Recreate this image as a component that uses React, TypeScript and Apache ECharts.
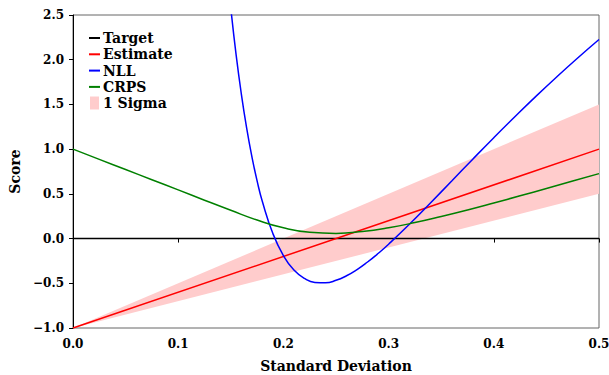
import React, { useEffect, useRef } from "react";
import * as echarts from "echarts";

const xTicks = ["0.0", "0.1", "0.2", "0.3", "0.4", "0.5"];
const yTicks = ["−1.0", "−0.5", "0.0", "0.5", "1.0", "1.5", "2.0", "2.5"];

const targetX = [0, 0.5];
const targetY = [0, 0];

const estimateX = [0, 0.5];
const estimateY = [-1, 1];

const bandX = [0, 0.5];
const bandLower = [-1, 0.5];
const bandUpper = [-1, 1.5];

const nllX = [0.14, 0.145, 0.15, 0.155, 0.16, 0.165, 0.17, 0.175, 0.18, 0.19, 0.2, 0.21, 0.22, 0.23, 0.24, 0.25, 0.26, 0.27, 0.28, 0.29, 0.3, 0.32, 0.34, 0.36, 0.38, 0.4, 0.42, 0.44, 0.46, 0.48, 0.5];
const nllY = [3.892, 3.183, 2.577, 2.06, 1.618, 1.24, 0.919, 0.645, 0.414, 0.056, -0.19, -0.352, -0.446, -0.49, -0.494, -0.467, -0.416, -0.347, -0.262, -0.167, -0.063, 0.162, 0.401, 0.644, 0.888, 1.128, 1.362, 1.59, 1.81, 2.022, 2.226];

const crpsX = [0, 0.025, 0.05, 0.075, 0.1, 0.125, 0.15, 0.175, 0.2, 0.225, 0.25, 0.275, 0.3, 0.325, 0.35, 0.375, 0.4, 0.425, 0.45, 0.475, 0.5];
const crpsY = [1, 0.886, 0.772, 0.658, 0.544, 0.429, 0.316, 0.207, 0.12, 0.07, 0.058, 0.079, 0.121, 0.179, 0.247, 0.32, 0.398, 0.478, 0.56, 0.643, 0.726];

const FONT = "'DejaVu Serif', 'Liberation Serif', serif";

const zip = (xs: number[], ys: number[]) => xs.map((x, i) => [x, ys[i]]);

export default function App() {
  const ref = useRef<HTMLDivElement>(null);
  useEffect(() => {
    if (!ref.current) return;
    const chart = echarts.init(ref.current, null, { renderer: "svg" });
    const lbl = { fontFamily: FONT, fontWeight: "bold" as const, fontSize: 12, color: "#000" };
    const legendText = { ...lbl, fontSize: 14, lineHeight: 16, padding: [0, 0, 0, -2] };
    chart.setOption({
      animation: false,
      grid: {
        left: 73,
        right: 10,
        top: 15,
        bottom: 47,
        show: true,
        borderColor: "#666",
        borderWidth: 1,
        containLabel: false,
        outerBoundsMode: "none",
      },
      legend: [
        {
          orient: "vertical",
          left: 84,
          top: 25,
          itemGap: 0.3,
          itemWidth: 11,
          itemHeight: 2,
          icon: "rect",
          textStyle: legendText,
          data: ["Target", "Estimate", "NLL", "CRPS"],
        },
        {
          orient: "vertical",
          left: 85,
          top: 90,
          itemWidth: 9,
          itemHeight: 13,
          textStyle: { ...legendText, padding: [0, 0, 0, -1] },
          data: [{ name: "1 Sigma", icon: "rect", itemStyle: { color: "#ffcccc" } }],
        },
      ],
      xAxis: {
        type: "value",
        min: 0,
        max: 0.5,
        interval: 0.1,
        name: "Standard Deviation",
        nameLocation: "middle",
        nameGap: 31,
        nameTextStyle: { ...lbl, fontSize: 14 },
        axisLine: { lineStyle: { color: "#000", width: 1 } },
        axisTick: { length: 4, lineStyle: { color: "#000" } },
        axisLabel: { ...lbl, margin: 10, formatter: (v: number) => xTicks[Math.round(v * 10)] },
        splitLine: { show: false },
      },
      yAxis: {
        type: "value",
        min: -1,
        max: 2.5,
        interval: 0.5,
        name: "Score",
        nameLocation: "middle",
        nameGap: 48,
        nameRotate: 90,
        nameTextStyle: { ...lbl, fontSize: 14 },
        axisLine: { show: true, lineStyle: { color: "#000", width: 1 } },
        axisTick: { show: true, length: 4, lineStyle: { color: "#000" } },
        axisLabel: { ...lbl, margin: 9, formatter: (v: number) => yTicks[Math.round((v + 1) * 2)] },
        splitLine: { show: false },
      },
      series: [
        {
          name: "1 Sigma",
          type: "custom",
          data: bandX.map((x, i) => [x, bandLower[i], bandUpper[i]]),
          encode: { x: 0, y: [1, 2] },
          itemStyle: { color: "#ffcccc" },
          silent: true,
          clip: true,
          z: 1,
          renderItem: (params: any, api: any) => {
            if (params.dataIndex !== 0) return null;
            const upper = bandX.map((x, i) => api.coord([x, bandUpper[i]]));
            const lower = bandX.map((x, i) => api.coord([x, bandLower[i]])).reverse();
            return {
              type: "polygon",
              shape: { points: upper.concat(lower) },
              style: { fill: "#ffcccc", stroke: "none" },
            };
          },
        },
        {
          name: "Target",
          type: "line",
          symbol: "none",
          data: zip(targetX, targetY),
          lineStyle: { color: "#000", width: 1.5 },
          itemStyle: { color: "#000" },
          z: 2,
        },
        {
          name: "Estimate",
          type: "line",
          symbol: "none",
          data: zip(estimateX, estimateY),
          lineStyle: { color: "#ff0000", width: 1.5 },
          itemStyle: { color: "#ff0000" },
          z: 3,
        },
        {
          name: "NLL",
          type: "line",
          symbol: "none",
          smooth: true,
          data: zip(nllX, nllY),
          lineStyle: { color: "#0000ff", width: 1.5 },
          itemStyle: { color: "#0000ff" },
          z: 4,
        },
        {
          name: "CRPS",
          type: "line",
          symbol: "none",
          smooth: true,
          data: zip(crpsX, crpsY),
          lineStyle: { color: "#008000", width: 1.5 },
          itemStyle: { color: "#008000" },
          z: 5,
        },
      ],
    });
    return () => chart.dispose();
  }, []);
  return <div ref={ref} style={{ width: 609, height: 375, position: "absolute", left: 0, top: 0 }} />;
}
